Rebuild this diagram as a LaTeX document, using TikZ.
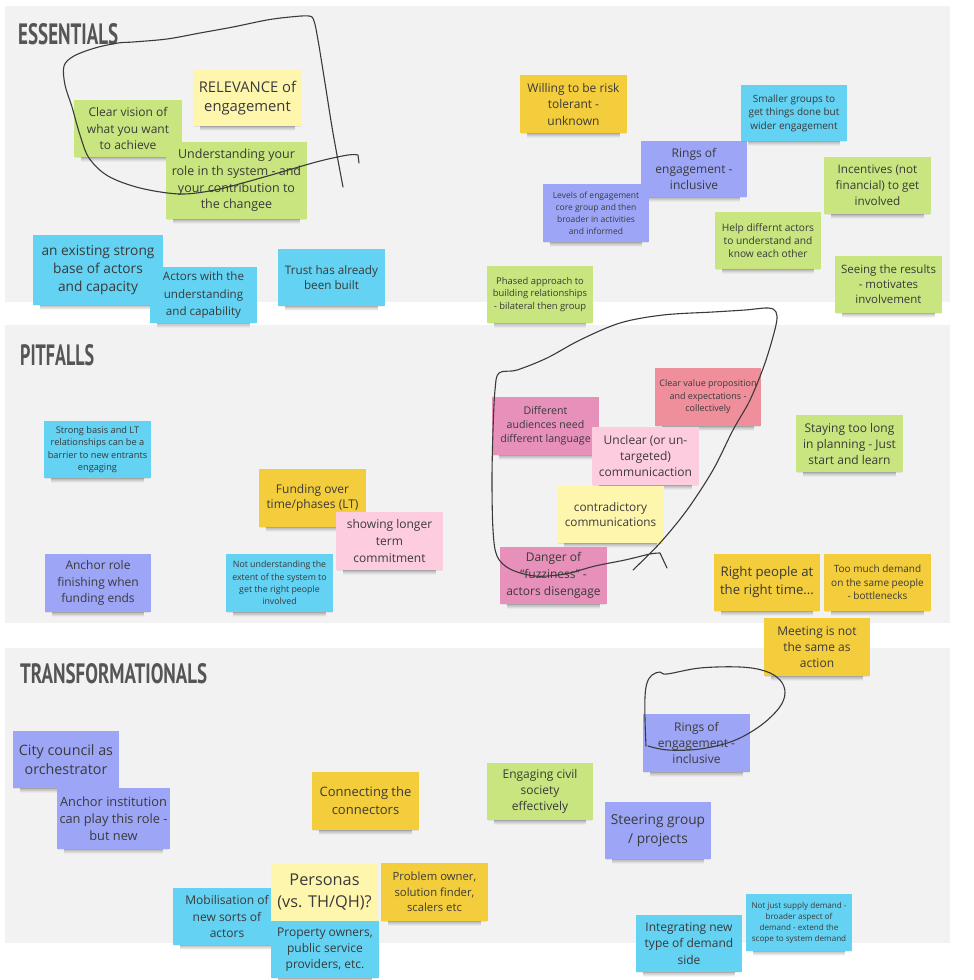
\documentclass[tikz,border=0pt]{standalone}
\usepackage{graphicx}
\usepackage{fontspec}
\setmainfont{Open Sans}
\newfontfamily\titlefont{PT Sans}
\usetikzlibrary{shadows,fadings}
\definecolor{panelgray}{HTML}{F2F2F2}
\definecolor{lgreen}{HTML}{C8E57F}
\definecolor{cyanb}{HTML}{63D2F3}
\definecolor{violetb}{HTML}{9DA6F6}
\definecolor{yellowb}{HTML}{F4CD3C}
\definecolor{lyellow}{HTML}{FFF6AE}
\definecolor{lpink}{HTML}{FDCCDF}
\definecolor{pinkb}{HTML}{E690BA}
\definecolor{redb}{HTML}{EF8F9B}
\definecolor{notetext}{HTML}{3A3A3A}
\definecolor{titlegray}{HTML}{555555}
\definecolor{penline}{HTML}{3A3A3A}
\tikzset{
  stickybox/.style={rectangle, draw=none, inner sep=0pt, align=center, text=notetext,
    general shadow={fill=black, opacity=.07, shadow yshift=-2pt, shadow scale=.98}},
  notesh/.style={fill=black, opacity=.38, path fading=south},
  titletext/.style={inner sep=0pt, text=titlegray, anchor=south west},
  handline/.style={draw=penline, line width=1.1pt, line cap=round, line join=round},
  panel/.style={fill=panelgray, draw=none}
}
\newcommand{\stickynote}[9]{%
  \pgfmathsetmacro{\stw}{#5-#3}%
  \pgfmathsetmacro{\sth}{#6-#4}%
  \fill[notesh] ({#3+7},{#6-2}) rectangle ({#5-7},{#6+4.5});
  \node[stickybox, fill=#2, minimum width=\stw pt, minimum height=\sth pt,
        font=\fontsize{#7}{#8}\selectfont] (#1) at ({(#3+#5)/2},{(#4+#6)/2}) {#9};}
\begin{document}
\begin{tikzpicture}[x=1pt,y=-1pt]
\useasboundingbox (0,0) rectangle (974,980);
\fill[white] (0,0) rectangle (974,980);
% panels
\fill[panel] (5,6) rectangle (950,302);
\fill[panel] (5,325) rectangle (950,623);
\fill[panel] (5,648) rectangle (950,943);
% titles
\node[titletext] (tess) at (18,45) {\resizebox{100pt}{21pt}{\titlefont\bfseries ESSENTIALS}};
\node[titletext] (tpit) at (20,366) {\resizebox{74pt}{21pt}{\titlefont\bfseries PITFALLS}};
\node[titletext] (ttra) at (20,684) {\resizebox{187pt}{20pt}{\titlefont\bfseries TRANSFORMATIONALS}};
% ESSENTIALS
\stickynote{relev}{lyellow}{193}{70}{302}{126}{14.8}{19}{RELEVANCE of\\engagement}
\stickynote{clearvis}{lgreen}{74}{100}{182}{157}{12}{16.7}{Clear vision of\\what you want\\to achieve}
\stickynote{underst}{lgreen}{166}{142}{307}{219}{12.5}{16.7}{Understanding your\\role in th system - and\\your contribution to\\the changee}
\stickynote{exist}{cyanb}{33}{235}{163}{305}{13.7}{18}{an existing strong\\base of actors\\and capacity}
\stickynote{actors}{cyanb}{150}{267}{257}{323}{11.6}{17.5}{Actors with the\\understanding\\and capability}
\stickynote{trust}{cyanb}{278}{249}{385}{306}{11.7}{15.5}{Trust has already\\been built}
\stickynote{willing}{yellowb}{520}{75}{627}{133}{12}{16.5}{Willing to be risk\\tolerant -\\unknown}
\stickynote{rings1}{violetb}{641}{141}{747}{197}{12}{16}{Rings of\\engagement -\\inclusive}
\stickynote{levels}{violetb}{543}{184}{649}{242}{8.5}{12}{Levels of engagement\\core group and then\\broader in activities\\and informed}
\stickynote{phased}{lgreen}{487}{266}{593}{323}{9.4}{12.5}{Phased approach to\\building relationships\\- bilateral then group}
\stickynote{smaller}{cyanb}{741}{85}{847}{141}{10}{13.5}{Smaller groups to\\get things done but\\wider engagement}
\stickynote{incent}{lgreen}{824}{157}{931}{214}{11.7}{16}{Incentives (not\\financial) to get\\involved}
\stickynote{help}{lgreen}{715}{212}{821}{269}{10.2}{13}{Help differnt actors\\to understand and\\know each other}
\stickynote{seeing}{lgreen}{835}{256}{942}{313}{11.5}{15}{Seeing the results\\- motivates\\involvement}
% PITFALLS
\stickynote{strong}{cyanb}{44}{421}{151}{478}{9.2}{12.3}{Strong basis and LT\\relationships can be a\\barrier to new entrants\\engaging}
\stickynote{funding}{yellowb}{259}{469}{366}{527}{12}{15}{Funding over\\time/phases (LT)}
\stickynote{showing}{lpink}{336}{512}{443}{570}{12}{16.7}{showing longer\\term\\commitment}
\stickynote{anchorrole}{violetb}{45}{554}{151}{612}{12}{16.7}{Anchor role\\finishing when\\funding ends}
\stickynote{notunder}{cyanb}{226}{554}{333}{612}{8.8}{12.3}{Not understanding the\\extent of the system to\\get the right people\\involved}
\stickynote{diffaud}{pinkb}{492}{397}{599}{455}{10.6}{14}{Different\\audiences need\\different language}
\stickynote{clearval}{redb}{655}{368}{761}{426}{9}{12.5}{Clear value proposition\\and expectations -\\collectively}
\stickynote{unclear}{lpink}{592}{427}{699}{485}{12}{16}{Unclear (or un-\\targeted)\\communicaction}
\stickynote{contra}{lyellow}{557}{486}{664}{543}{11.8}{15}{contradictory\\communications}
\stickynote{danger}{pinkb}{500}{547}{607}{604}{12}{17}{Danger of\\“fuzziness” -\\actors disengage}
\stickynote{staying}{lgreen}{796}{415}{903}{472}{12}{16}{Staying too long\\in planning - Just\\start and learn}
\stickynote{rightp}{yellowb}{714}{554}{820}{611}{13.2}{18}{Right people at\\the right time...}
\stickynote{toomuch}{yellowb}{824}{554}{931}{611}{10}{13.5}{Too much demand\\on the same people\\- bottlenecks}
\stickynote{meeting}{yellowb}{764}{618}{870}{676}{12}{16}{Meeting is not\\the same as\\action}
% TRANSFORMATIONALS
\stickynote{city}{violetb}{13}{731}{119}{788}{14.3}{19}{City council as\\orchestrator}
\stickynote{anchorinst}{violetb}{57}{788}{170}{849}{12.8}{16.7}{Anchor institution\\can play this role -\\but new}
\stickynote{connecting}{yellowb}{312}{772}{419}{830}{13}{18}{Connecting the\\connectors}
\stickynote{mobil}{cyanb}{173}{888}{281}{945}{12}{16.7}{Mobilisation of\\new sorts of\\actors}
\stickynote{personas}{lyellow}{271}{864}{378}{921}{16.3}{22}{Personas\\(vs. TH/QH)?}
\stickynote{property}{cyanb}{271}{921}{379}{978}{12}{16}{Property owners,\\public service\\providers, etc.}
\stickynote{problem}{yellowb}{381}{863}{488}{921}{11.3}{15.5}{Problem owner,\\solution finder,\\scalers etc}
\stickynote{rings2}{violetb}{643}{714}{750}{772}{12}{16}{Rings of\\engagement -\\inclusive}
\stickynote{engaging}{lgreen}{487}{763}{593}{820}{12}{16}{Engaging civil\\society\\effectively}
\stickynote{steering}{violetb}{605}{802}{711}{859}{13.7}{19}{Steering group\\/ projects}
\stickynote{integrating}{cyanb}{636}{915}{742}{972}{12}{16.5}{Integrating new\\type of demand\\side}
\stickynote{notjust}{cyanb}{746}{894}{852}{951}{8.1}{11}{Not just supply demand -\\broader aspect of\\demand - extend the\\scope to system demand}
% hand-drawn loops
\draw[handline] plot[smooth, tension=0.55] coordinates {(343,187) (333,133) (325,83) (318,40) (314,21) (309,16) (290,17) (267,20) (233,27) (200,33) (167,39) (133,42) (118,43) (95,48) (74,56) (64,66) (65,85) (72,107) (80,135) (89,158) (108,176) (140,188) (180,194) (215,190) (250,181) (285,171) (320,161) (348,155) (358,155)} -- (359,163);
\draw[handline] plot[smooth, tension=0.55] coordinates {(633,570) (660,543) (687,510) (713,470) (733,430) (750,400) (765,363) (776,325) (776,312) (768,308) (745,310) (713,312) (663,315) (620,323) (580,340) (547,358) (517,370) (499,373) (495,390) (493,430) (492,480) (493,530) (497,556) (510,569) (535,576) (565,574) (595,566) (625,560) (650,554) (660,553)} -- (667,568);
\draw[handline] plot[smooth, tension=0.6] coordinates {(646,746) (645,720) (645,697) (647,683) (652,675) (660,672) (667,674) (700,668) (740,667) (765,671) (780,680) (785,693) (779,708) (760,726) (733,741) (700,749) (668,750) (648,746)};
\end{tikzpicture}
\end{document}
